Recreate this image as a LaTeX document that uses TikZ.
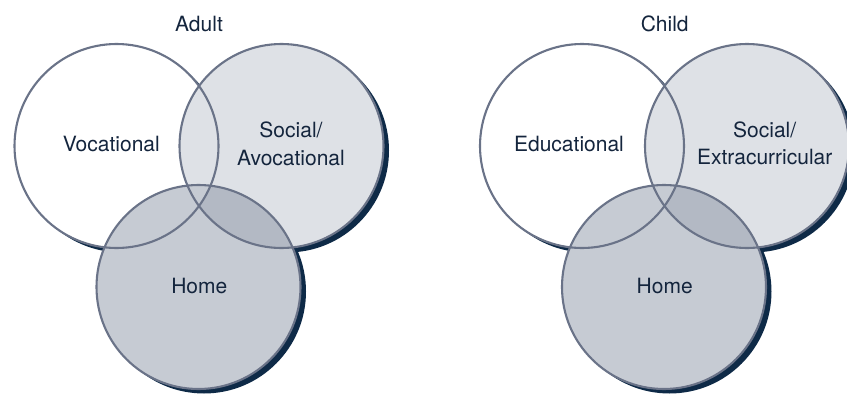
\documentclass[tikz,border=0pt]{standalone}
\usepackage{fontspec}
\setmainfont{TeX Gyre Heros}
\definecolor{shadowc}{HTML}{0E2A47}
\definecolor{edgec}{HTML}{6A7388}
\definecolor{fillR}{HTML}{DEE1E6}
\definecolor{fillB}{HTML}{C6CBD3}
\definecolor{fillRB}{HTML}{B3B9C4}
\definecolor{textc}{HTML}{14253D}
\tikzset{
  lbl/.style={text=textc, font=\fontsize{21}{27.3}\selectfont, align=center, inner sep=0pt, anchor=base},
  ring/.style={draw=edgec, line width=2.1pt},
  shade/.style={fill=shadowc}
}
\newcommand\drawvenn[1]{%
  \begin{scope}[xshift=#1]
    % shadows
    \fill[shade] (122,150.5) circle[radius=102pt];
    \fill[shade] (287,150.5) circle[radius=102pt];
    \fill[shade] (204,291.5) circle[radius=102pt];
    % fills
    \fill[white] (116.5,146) circle[radius=102pt];
    \fill[fillR] (281.5,146) circle[radius=102pt];
    \fill[fillB] (198.5,287) circle[radius=102pt];
    \begin{scope}
      \clip (281.5,146) circle[radius=102pt];
      \fill[fillRB] (198.5,287) circle[radius=102pt];
      \clip (198.5,287) circle[radius=102pt];
      \fill[fillB] (116.5,146) circle[radius=102pt];
    \end{scope}
    % outlines
    \draw[ring] (116.5,146) circle[radius=102pt];
    \draw[ring] (281.5,146) circle[radius=102pt];
    \draw[ring] (198.5,287) circle[radius=102pt];
  \end{scope}}
\begin{document}
\begin{tikzpicture}[x=1pt,y=-1pt]
  \useasboundingbox (0,0) rectangle (847,394);
  \fill[white] (0,0) rectangle (847,394);
  \drawvenn{0pt}
  \drawvenn{465.5pt}
  % Adult
  \node[lbl] (adult) at (199,31) {Adult};
  \node[lbl] (voc) at (111.3,151.7) {Vocational};
  \node[lbl] (soc) at (291,165) {Social/\\Avocational};
  \node[lbl] (home1) at (199.3,293.3) {Home};
  % Child
  \node[lbl] (child) at (664.7,31) {Child};
  \node[lbl] (edu) at (569,151.7) {Educational};
  \node[lbl] (ext) at (764.7,164.5) {Social/\\Extracurricular};
  \node[lbl] (home2) at (664.7,293.3) {Home};
\end{tikzpicture}
\end{document}
